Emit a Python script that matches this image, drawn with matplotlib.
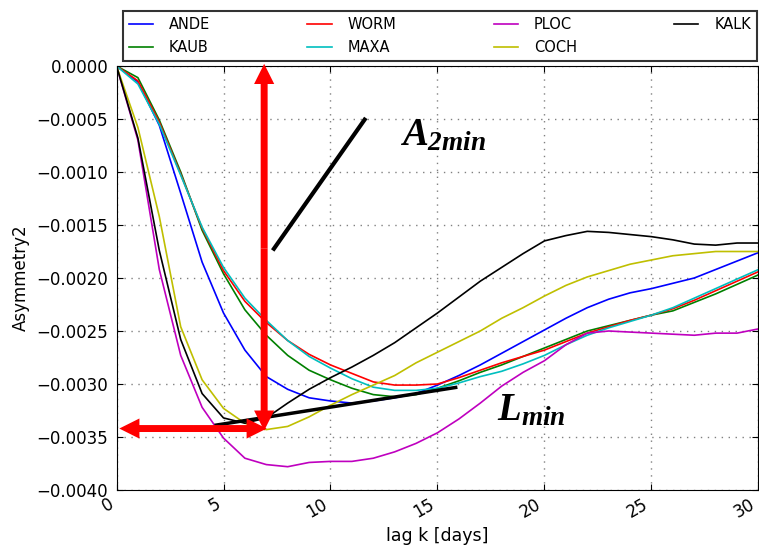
import numpy as np
import matplotlib
matplotlib.use('Agg')
import matplotlib.pyplot as plt
from matplotlib.ticker import FuncFormatter, MultipleLocator

# asymmetry curves per station, lag 0..30 days
lag = np.arange(31)
ande = [0, -0.00015, -0.00056, -0.00120, -0.00185, -0.00233, -0.00268, -0.00293, -0.00305, -0.00313,
        -0.00316, -0.00318, -0.00316, -0.00313, -0.00309, -0.00301, -0.00292, -0.00282, -0.00271, -0.00260,
        -0.00249, -0.00238, -0.00228, -0.00220, -0.00214, -0.00210, -0.00205, -0.00200, -0.00192, -0.00184,
        -0.00176]
kaub = [0, -0.00011, -0.00051, -0.00100, -0.00155, -0.00196, -0.00230, -0.00254, -0.00273, -0.00287,
        -0.00296, -0.00304, -0.00310, -0.00312, -0.00310, -0.00304, -0.00297, -0.00289, -0.00282, -0.00274,
        -0.00266, -0.00258, -0.00250, -0.00245, -0.00240, -0.00235, -0.00231, -0.00223, -0.00215, -0.00206,
        -0.00197]
worm = [0, -0.00014, -0.00053, -0.00102, -0.00153, -0.00193, -0.00222, -0.00242, -0.00259, -0.00272,
        -0.00282, -0.00290, -0.00298, -0.00301, -0.00301, -0.00300, -0.00294, -0.00287, -0.00280, -0.00274,
        -0.00268, -0.00260, -0.00252, -0.00246, -0.00240, -0.00235, -0.00229, -0.00221, -0.00212, -0.00203,
        -0.00194]
maxa = [0, -0.00017, -0.00055, -0.00103, -0.00152, -0.00190, -0.00219, -0.00240, -0.00259, -0.00274,
        -0.00285, -0.00295, -0.00303, -0.00306, -0.00306, -0.00304, -0.00299, -0.00293, -0.00288, -0.00281,
        -0.00273, -0.00263, -0.00254, -0.00247, -0.00241, -0.00235, -0.00228, -0.00219, -0.00210, -0.00201,
        -0.00192]
ploc = [0, -0.00070, -0.00192, -0.00273, -0.00322, -0.00351, -0.00370, -0.00376, -0.00378, -0.00374,
        -0.00373, -0.00373, -0.00370, -0.00364, -0.00356, -0.00346, -0.00333, -0.00318, -0.00302, -0.00289,
        -0.00278, -0.00263, -0.00252, -0.00250, -0.00251, -0.00252, -0.00253, -0.00254, -0.00252, -0.00252,
        -0.00248]
coch = [0, -0.00058, -0.00142, -0.00246, -0.00296, -0.00323, -0.00337, -0.00343, -0.00340, -0.00331,
        -0.00320, -0.00310, -0.00301, -0.00292, -0.00280, -0.00270, -0.00260, -0.00250, -0.00238, -0.00228,
        -0.00217, -0.00207, -0.00199, -0.00193, -0.00187, -0.00183, -0.00179, -0.00177, -0.00175, -0.00175,
        -0.00175]
kalk = [0, -0.00068, -0.00174, -0.00258, -0.00309, -0.00332, -0.00337, -0.00332, -0.00318, -0.00305,
        -0.00294, -0.00284, -0.00273, -0.00261, -0.00247, -0.00233, -0.00218, -0.00203, -0.00190, -0.00177,
        -0.00165, -0.00160, -0.00156, -0.00157, -0.00159, -0.00161, -0.00164, -0.00168, -0.00169, -0.00167,
        -0.00167]

names = ['ANDE', 'KAUB', 'WORM', 'MAXA', 'PLOC', 'COCH', 'KALK']
series = [ande, kaub, worm, maxa, ploc, coch, kalk]
colors = ['#0000ff', '#008000', '#ff0000', '#00bfbf', '#bf00bf', '#bfbf00', '#000000']

# markers of the minimum
lag_min = 6.9
a2_min = -0.00344
l_line_x = [4.58, 15.93]
l_line_y = [-0.00339, -0.00303]
a_line_x = [7.3, 11.65]
a_line_y = [-0.00174, -0.00049]

plt.rcParams['mathtext.fontset'] = 'custom'
plt.rcParams['mathtext.it'] = 'Liberation Serif:italic:bold'
plt.rcParams['mathtext.rm'] = 'Liberation Serif:italic:bold'

fig = plt.figure(figsize=(7.59, 5.48), dpi=100)
ax = fig.add_axes([0.1535, 0.1058, 0.8458, 0.7738])

for name, vals, c in zip(names, series, colors):
    ax.plot(lag, vals, color=c, lw=1.2, label=name)

ax.set_xlim(0, 30)
ax.set_ylim(-0.004, 0)
ax.xaxis.set_major_locator(MultipleLocator(5))
ax.yaxis.set_major_locator(MultipleLocator(0.0005))


def fmt(v, pos):
    if abs(v) < 1e-12:
        return '0.0000'
    return ('%.4f' % v).replace('-', '\u2212')


ax.yaxis.set_major_formatter(FuncFormatter(fmt))
ax.tick_params(direction='in', top=True, right=True, labelsize=12, length=4)
ax.tick_params(axis='y', pad=6)
ax.tick_params(axis='x', labelrotation=30)
for lbl in ax.get_xticklabels():
    lbl.set_ha('right')
ax.grid(True, linestyle=(0, (1, 4)), color='0.5', lw=1)
ax.set_xlabel('lag k [days]', fontsize=12.5)
ax.set_ylabel('Asymmetry2', fontsize=12)
ax.yaxis.set_label_coords(-0.135, 0.5)

# red double arrows: amplitude and lag of the minimum
arrow = dict(width=5, headwidth=14.5, headlength=14.5, color='red', lw=0)
mid_y = a2_min / 2
ax.annotate('', xy=(lag_min, 0.00002), xytext=(lag_min, mid_y), arrowprops=arrow, annotation_clip=False)
ax.annotate('', xy=(lag_min, a2_min), xytext=(lag_min, mid_y), arrowprops=arrow)
mid_x = (0.13 + 7.02) / 2
ax.annotate('', xy=(0.13, -0.00342), xytext=(mid_x, -0.00342), arrowprops=arrow)
ax.annotate('', xy=(7.02, -0.00342), xytext=(mid_x, -0.00342), arrowprops=arrow)

ax.plot(l_line_x, l_line_y, color='k', lw=2.5, solid_capstyle='butt')
ax.plot(a_line_x, a_line_y, color='k', lw=3, solid_capstyle='butt')
ax.text(13.25, -0.00075, r'$A_{2min}$', fontsize=28)
ax.text(17.8, -0.00334, r'$L_{min}$', fontsize=28)

leg = fig.legend(loc='lower left', bbox_to_anchor=(0.162, 0.889, 0.835, 0.089), mode='expand',
                 ncol=4, fontsize=10.5, fancybox=False, edgecolor='0.2', framealpha=1,
                 borderaxespad=0, handlelength=1.65, handletextpad=1.1, labelspacing=0.55)
leg.get_frame().set_linewidth(1.5)

fig.savefig('out.png', dpi=100)
